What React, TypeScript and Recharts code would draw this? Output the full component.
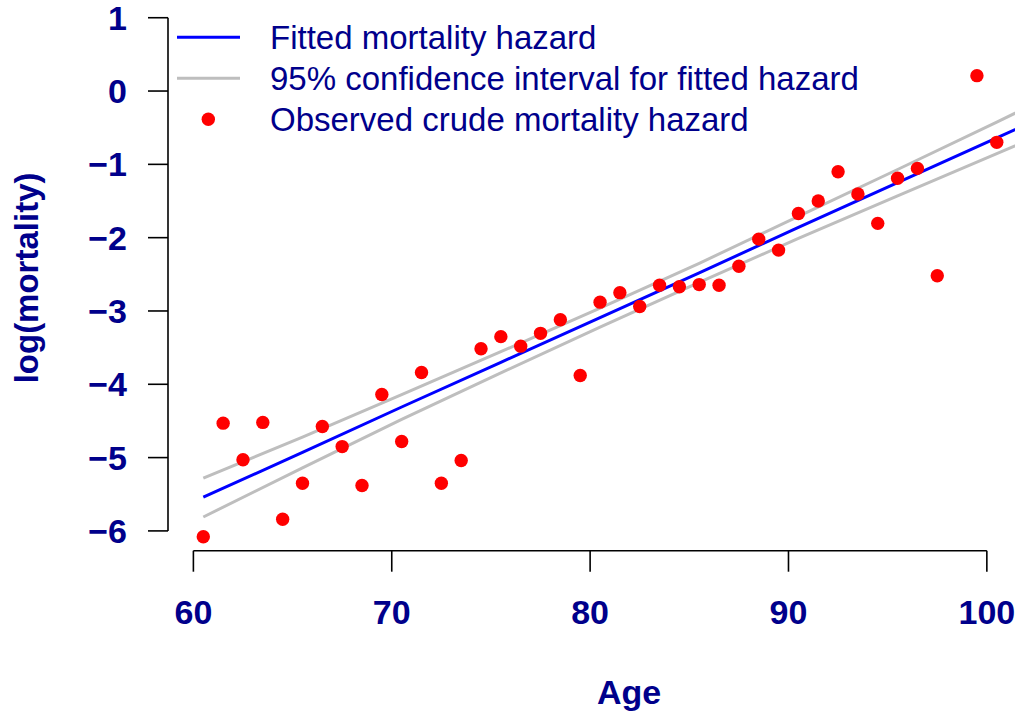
import { ComposedChart, Line, Scatter, XAxis, YAxis, Legend, Label, ReferenceLine } from 'recharts';

const FONT = '"Liberation Sans", Arial, Helvetica, sans-serif';
const NAVY = '#00008B';

// observed crude hazard (age 98.5 has no finite value)
const obsAges = [
  60.5, 61.5, 62.5, 63.5, 64.5, 65.5, 66.5, 67.5, 68.5, 69.5, 70.5, 71.5, 72.5, 73.5, 74.5, 75.5, 76.5, 77.5, 78.5, 79.5,
  80.5, 81.5, 82.5, 83.5, 84.5, 85.5, 86.5, 87.5, 88.5, 89.5, 90.5, 91.5, 92.5, 93.5, 94.5, 95.5, 96.5, 97.5, 99.5, 100.5,
];
const obsLogMort = [
  -6.08, -4.53, -5.03, -4.52, -5.84, -5.35, -4.575, -4.85, -5.38, -4.14, -4.78, -3.84, -5.35, -5.04, -3.515, -3.35, -3.48,
  -3.305, -3.12, -3.88, -2.88, -2.75, -2.94, -2.65, -2.67, -2.64, -2.65, -2.39, -2.02, -2.17, -1.67, -1.5, -1.1, -1.405,
  -1.805, -1.19, -1.055, -2.52, 0.21, -0.7,
];

// fitted hazard and its 95% band
const fitAges = [60.5, 65.5, 70.5, 75.5, 80.5, 85.5, 90.5, 95.5, 100.5, 102.5];
const fitted = [-5.54, -4.93, -4.31, -3.7, -3.09, -2.48, -1.86, -1.25, -0.64, -0.39];
const upperCI = [-5.28, -4.72, -4.14, -3.555, -2.96, -2.35, -1.71, -1.07, -0.425, -0.16];
const lowerCI = [-5.81, -5.14, -4.48, -3.845, -3.22, -2.61, -2.01, -1.43, -0.855, -0.62];

const legendNames = ['Fitted mortality hazard', '95% confidence interval for fitted hazard', 'Observed crude mortality hazard'];

const xTicks = [60, 70, 80, 90, 100];
const yTicks = [-6, -5, -4, -3, -2, -1, 0, 1];
const xDomain = [58.72, 105.2];
const yDomain = [-6.27, 1.28];

const obsData = obsAges.map((a, i) => ({ age: a, value: obsLogMort[i] }));
const fitData = fitAges.map((a, i) => ({ age: a, value: fitted[i] }));
const upperData = fitAges.map((a, i) => ({ age: a, value: upperCI[i] }));
const lowerData = fitAges.map((a, i) => ({ age: a, value: lowerCI[i] }));

const fmt = (v: number) => (v < 0 ? `\u2212${Math.abs(v)}` : String(v));

const tickStyle = { fill: NAVY, fontSize: 34, fontWeight: 'bold', fontFamily: FONT };

function Dot(props: any) {
  const { cx, cy } = props;
  return <circle cx={cx} cy={cy} r={6.7} fill="#FF0000" />;
}

function LegendBox(props: any) {
  const items = (props.payload || [])
    .filter((p: any) => p.type !== 'none')
    .sort((a: any, b: any) => legendNames.indexOf(a.value) - legendNames.indexOf(b.value));
  return (
    <svg width={720} height={140}>
      {items.map((p: any, i: number) => {
        const y = 37.3 + i * 41;
        return (
          <g key={p.value}>
            {p.type === 'line' ? (
              <line x1={17} x2={80} y1={y} y2={y} stroke={p.color} strokeWidth={3} />
            ) : (
              <circle cx={48.3} cy={y} r={6.7} fill={p.color} />
            )}
            <text x={110} y={y} dominantBaseline="central" fill={NAVY} fontSize={33} fontFamily={FONT}>
              {p.value}
            </text>
          </g>
        );
      })}
    </svg>
  );
}

function XTitle(props: any) {
  const { viewBox } = props;
  return (
    <text x={629} y={viewBox.y + 153.3} textAnchor="middle" fill={NAVY} fontSize={34} fontWeight="bold" fontFamily={FONT}>
      Age
    </text>
  );
}

function YTitle(props: any) {
  const { viewBox } = props;
  const cy = viewBox.y + viewBox.height / 2 + 4;
  return (
    <text
      x={38}
      y={cy}
      transform={`rotate(-90, 38, ${cy})`}
      textAnchor="middle"
      fill={NAVY}
      fontSize={33}
      fontWeight="bold"
      fontFamily={FONT}
    >
      log(mortality)
    </text>
  );
}

export default function App() {
  return (
    <div style={{ position: 'absolute', left: 0, top: 0, width: 1015, height: 712, overflow: 'hidden', background: '#fff' }}>
      <div style={{ position: 'absolute', left: 0, top: -20 }}>
        <ComposedChart width={1110} height={752} margin={{ top: 17.2, right: 20, left: 0, bottom: 81.3 }}>
          <XAxis
            type="number"
            dataKey="age"
            domain={xDomain}
            allowDataOverflow
            ticks={xTicks}
            interval={0}
            tickFormatter={fmt}
            axisLine={false}
            tickLine={{ stroke: '#000', strokeWidth: 1.6 }}
            tickSize={21}
            tickMargin={28}
            tick={tickStyle}
            height={100}
          >
            <Label content={<XTitle />} />
          </XAxis>
          <YAxis
            type="number"
            domain={yDomain}
            allowDataOverflow
            ticks={yTicks}
            interval={0}
            tickFormatter={fmt}
            axisLine={false}
            tickLine={{ stroke: '#000', strokeWidth: 1.6 }}
            tickSize={20}
            tickMargin={21}
            tick={tickStyle}
            width={168}
          >
            <Label content={<YTitle />} />
          </YAxis>
          <ReferenceLine
            segment={[{ x: xTicks[0], y: yDomain[0] }, { x: xTicks[xTicks.length - 1], y: yDomain[0] }]}
            stroke="#000"
            strokeWidth={1.6}
            ifOverflow="visible"
          />
          <ReferenceLine
            segment={[{ x: xDomain[0], y: yTicks[0] }, { x: xDomain[0], y: yTicks[yTicks.length - 1] }]}
            stroke="#000"
            strokeWidth={1.6}
            ifOverflow="visible"
          />
          <Legend
            layout="vertical"
            align="center"
            verticalAlign="middle"
            content={<LegendBox />}
            wrapperStyle={{ position: 'absolute', top: 20, left: 160, width: 720, height: 140 }}
          />
          <Line
            data={fitData}
            dataKey="value"
            name="Fitted mortality hazard"
            stroke="#0000FF"
            strokeWidth={3}
            dot={false}
            legendType="line"
            isAnimationActive={false}
          />
          <Line
            data={upperData}
            dataKey="value"
            name="95% confidence interval for fitted hazard"
            stroke="#BEBEBE"
            strokeWidth={3}
            dot={false}
            legendType="line"
            isAnimationActive={false}
          />
          <Line
            data={lowerData}
            dataKey="value"
            name="lower"
            stroke="#BEBEBE"
            strokeWidth={3}
            dot={false}
            legendType="none"
            isAnimationActive={false}
          />
          <Scatter
            data={obsData}
            dataKey="value"
            name="Observed crude mortality hazard"
            fill="#FF0000"
            shape={<Dot />}
            legendType="circle"
            isAnimationActive={false}
          />
        </ComposedChart>
      </div>
    </div>
  );
}
